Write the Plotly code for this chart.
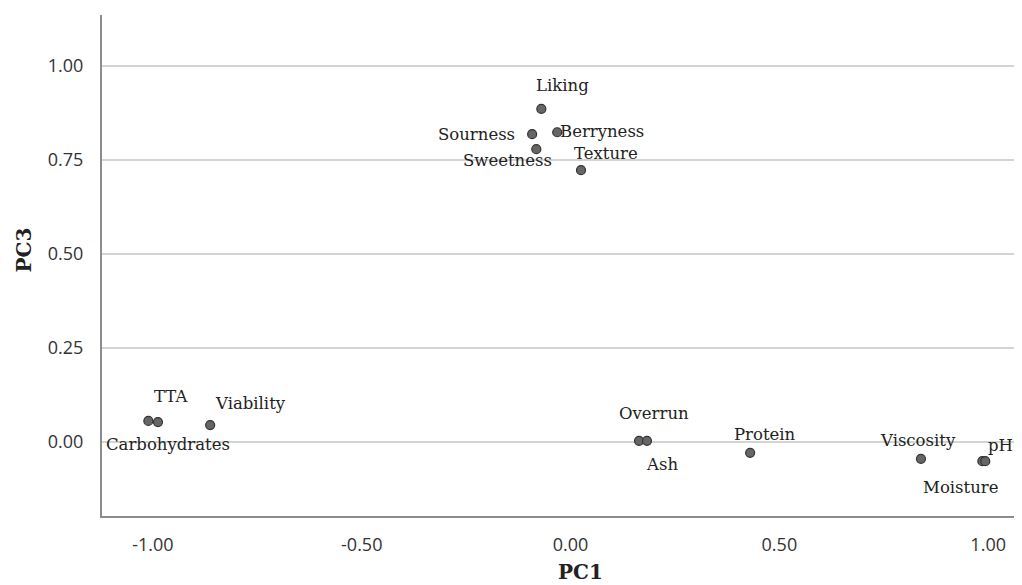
import plotly.graph_objects as go

# ---- data ----
variables = ["Liking", "Sourness", "Berryness", "Sweetness", "Texture",
             "TTA", "Carbohydrates", "Viability", "Overrun", "Ash",
             "Protein", "Viscosity", "Moisture", "pH"]
pc1 = [-0.070, -0.092, -0.032, -0.082, 0.025,
       -1.011, -0.988, -0.863, 0.164, 0.183,
       0.430, 0.839, 0.986, 0.993]
pc3 = [0.886, 0.819, 0.824, 0.779, 0.723,
       0.056, 0.053, 0.045, 0.003, 0.003,
       -0.029, -0.045, -0.051, -0.051]
y_ticks = [0.0, 0.25, 0.5, 0.75, 1.0]
x_ticks = [-1.0, -0.5, 0.0, 0.5, 1.0]

# label offsets in pixels (style only)
label_offsets = {
    "Liking": (21, 23), "Sourness": (-56, 0), "Berryness": (45, 1),
    "Sweetness": (-29, -11), "Texture": (25, 17), "TTA": (23, 24),
    "Carbohydrates": (10, -22), "Viability": (40, 22), "Overrun": (15, 27),
    "Ash": (15, -24), "Protein": (15, 18), "Viscosity": (-3, 18),
    "Moisture": (-22, -26), "pH": (15, 16),
}

fig = go.Figure()
fig.add_trace(go.Scatter(
    x=pc1, y=pc3, mode="markers",
    marker=dict(size=9, color="#666666", line=dict(color="#333333", width=1.2)),
    hoverinfo="text", text=variables, showlegend=False,
))

for name, xv, yv in zip(variables, pc1, pc3):
    dx, dy = label_offsets[name]
    fig.add_annotation(x=xv, y=yv, xref="x", yref="y", text=name, showarrow=False,
                       xshift=dx, yshift=dy,
                       font=dict(family="DejaVu Serif", size=16.5, color="#222222"))

fig.add_annotation(x=0.52, y=-0.112, xref="paper", yref="paper", text="<b>PC1</b>",
                   xanchor="center", yanchor="middle", showarrow=False,
                   font=dict(family="DejaVu Serif", size=20, color="#222222"))
fig.add_annotation(x=-0.0853, y=0.531, xref="paper", yref="paper", text="<b>PC3</b>",
                   xanchor="center", yanchor="middle", textangle=-90, showarrow=False,
                   font=dict(family="DejaVu Serif", size=20, color="#222222"))

fig.update_xaxes(range=[-1.122, 1.081], tickvals=x_ticks,
                 ticktext=[f"{v:.2f}" for v in x_ticks],
                 showgrid=False, zeroline=False, showline=True, linecolor="#8c8c8c",
                 linewidth=2, ticks="outside", ticklen=11, tickcolor="rgba(0,0,0,0)",
                 tickfont=dict(family="Open Sans", size=18, color="#333333"))
fig.update_yaxes(range=[-0.197, 1.136], tickvals=y_ticks,
                 ticktext=[f"{v:.2f}" for v in y_ticks],
                 showgrid=True, gridcolor="#d4d4d4", gridwidth=2, zeroline=False,
                 showline=True, linecolor="#8c8c8c", linewidth=2,
                 ticks="outside", ticklen=13, tickcolor="rgba(0,0,0,0)",
                 tickfont=dict(family="Open Sans", size=18, color="#333333"))

# the page body has an 8px margin, so the figure is sized to fit the window
fig.update_layout(width=1014, height=577, plot_bgcolor="white", paper_bgcolor="white",
                  margin=dict(l=94, r=0, t=7, b=69))
fig.write_html("out.html")
